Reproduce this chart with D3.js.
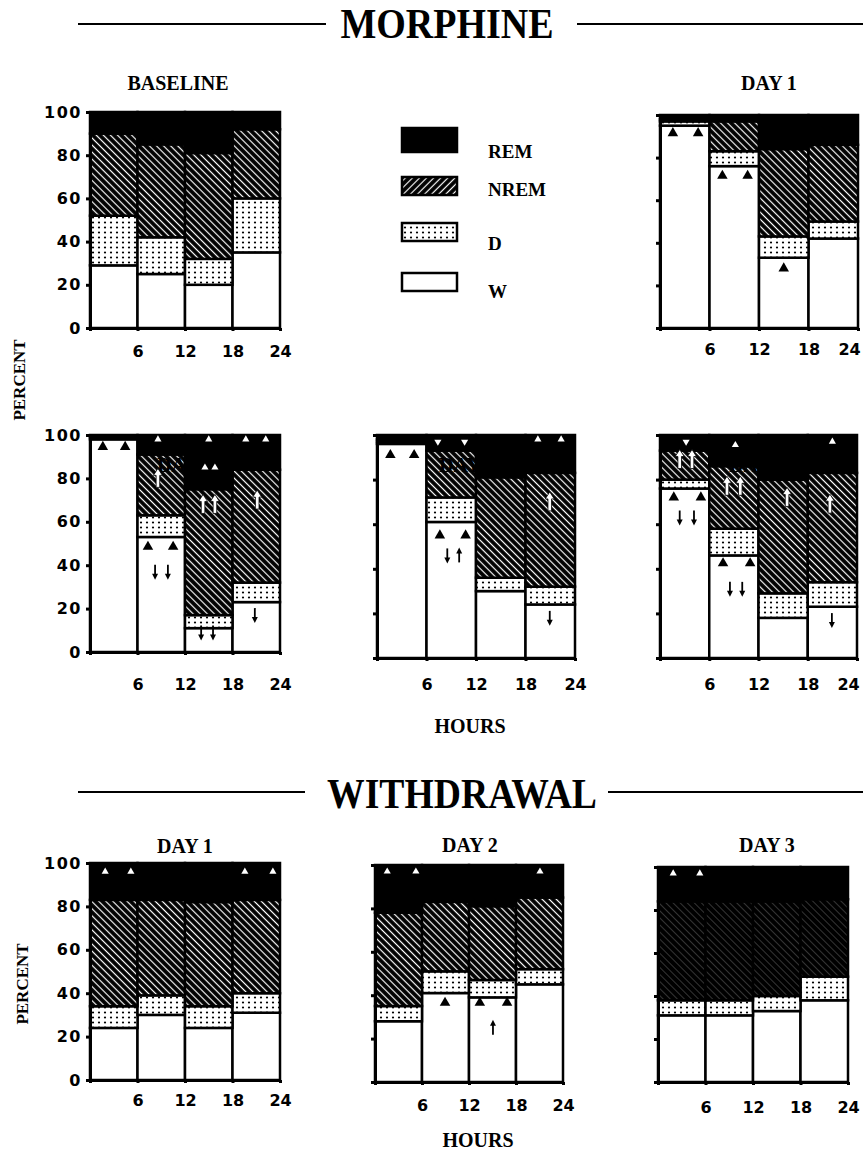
<!DOCTYPE html>
<html>
<head>
<meta charset="utf-8">
<script src="https://d3js.org/d3.v7.min.js"></script>
<style>
  body { margin: 0; background: #fff; }
  svg text { fill: #000; }
  .serif { font-family: "Liberation Serif", "Times New Roman", serif; font-weight: bold; }
  .tick text { font-family: "DejaVu Sans", sans-serif; font-weight: bold; font-size: 16px; }
</style>
</head>
<body>
<script>
// % of each 6-h block spent in W, D, NREM, REM
var titles = ["BASELINE", "DAY 1", "DAY 5", "DAY 10", "DAY 15", "DAY 1", "DAY 2", "DAY 3"];
var hours = [6, 12, 18, 24];
var hourTicks = [0, 6, 12, 18, 24];
var yTicks = [0, 20, 40, 60, 80, 100];
var stages = ["W", "D", "NREM", "REM"];
var wake   = [[29,25,20,35],[95,76,33,42],[98,53,11,23],[96,61,30,24],[76,46,18,23],[24,30,24,31],[28,41,39,45],[31,31,33,38]];
var drowsy = [[23,17,12,25],[2,7,10,8],[1,10,6,9],[1,11,6,8],[4,12,11,11],[10,9,10,9],[7,10,8,7],[7,7,7,11]];
var nrem   = [[38,43,49,32],[1,14,41,36],[0.5,28,58,52],[1,21,45,51],[13,28,51,49],[49,44,48,43],[43,32,34,33],[46,46,44,36]];
var rem    = [[10,15,19,8],[2,3,16,14],[0.5,9,25,16],[2,7,19,17],[7,14,20,17],[17,17,18,17],[22,17,19,15],[16,16,16,15]];

// significance marks: [panel, block, position in block, percent, kind]
var marks = [
  [1,0,0.26,91.5,"tri"],[1,0,0.77,91.5,"tri"],[1,1,0.26,71.5,"tri"],[1,1,0.77,71.5,"tri"],[1,2,0.5,28,"tri"],
  [2,0,0.27,94.5,"tri"],[2,0,0.74,94.5,"tri"],
  [2,1,0.43,98,"triW"],[2,1,0.43,80,"upW"],[2,1,0.22,48.5,"tri"],[2,1,0.75,48.5,"tri"],[2,1,0.37,37,"dn"],[2,1,0.64,37,"dn"],
  [2,2,0.5,98,"triW"],[2,2,0.42,85,"triW"],[2,2,0.63,85,"triW"],[2,2,0.38,68,"upW"],[2,2,0.63,68,"upW"],[2,2,0.34,9,"dn"],[2,2,0.59,9,"dn"],
  [2,3,0.28,98,"triW"],[2,3,0.7,98,"triW"],[2,3,0.52,70,"upW"],[2,3,0.47,17,"dn"],
  [3,0,0.27,91,"tri"],[3,0,0.75,91,"tri"],
  [3,1,0.23,97,"triWd"],[3,1,0.77,97,"triWd"],[3,1,0.27,55,"tri"],[3,1,0.79,55,"tri"],[3,1,0.42,46,"dn"],[3,1,0.66,46,"up"],
  [3,3,0.25,98,"triW"],[3,3,0.72,98,"triW"],[3,3,0.49,70,"upW"],[3,3,0.49,18,"dn"],
  [4,0,0.53,97,"triWd"],[4,0,0.4,89,"upW"],[4,0,0.65,89,"upW"],[4,0,0.28,72,"tri"],[4,0,0.83,72,"tri"],[4,0,0.4,63,"dn"],[4,0,0.69,63,"dn"],
  [4,1,0.53,95.5,"triW"],[4,1,0.36,77,"upW"],[4,1,0.63,77,"upW"],[4,1,0.28,42.5,"tri"],[4,1,0.83,42.5,"tri"],[4,1,0.42,31,"dn"],[4,1,0.67,31,"dn"],
  [4,2,0.58,72,"upW"],
  [4,3,0.5,97,"triW"],[4,3,0.45,69,"upW"],[4,3,0.49,17,"dn"],
  [5,0,0.32,96,"triW"],[5,0,0.86,96,"triW"],[5,3,0.26,96,"triW"],[5,3,0.85,96,"triW"],
  [6,0,0.26,97,"triW"],[6,0,0.87,97,"triW"],[6,3,0.51,97,"triW"],[6,1,0.49,36.5,"tri"],[6,2,0.23,36.5,"tri"],[6,2,0.81,36.5,"tri"],[6,2,0.51,25,"up"],
  [7,0,0.32,97,"triW"],[7,0,0.88,97,"triW"]
];

// panel boxes on the page
var layout = [
  {x0:90,  x1:280, top:112, bot:328,  tx:178, ty:90,  labels:true,  pad:15},
  {x0:660, x1:858, top:115, bot:328,  tx:769, ty:90,  labels:false, pad:13, edge:true},
  {x0:90,  x1:280, top:435, bot:652,  tx:185, ty:472, labels:true,  pad:24},
  {x0:377, x1:575, top:435, bot:658,  tx:472, ty:472, labels:false, pad:18},
  {x0:660, x1:857, top:435, bot:658,  tx:762, ty:472, labels:false, pad:18, edge:true},
  {x0:90,  x1:280, top:863, bot:1080, tx:185, ty:853, labels:true,  pad:12},
  {x0:375, x1:563, top:865, bot:1082, tx:470, ty:852, labels:false, pad:15},
  {x0:658, x1:848, top:867, bot:1082, tx:767, ty:852, labels:false, pad:17, dark:true}
];

var svg = d3.select("body").append("svg").attr("width", 863).attr("height", 1154);
var defs = svg.append("defs");

function hatch(id, angle, lineW, op) {
  var p = defs.append("pattern").attr("id", id).attr("width", 5).attr("height", 5)
    .attr("patternUnits", "userSpaceOnUse").attr("patternTransform", "rotate(" + angle + ")");
  p.append("rect").attr("width", 5).attr("height", 5).attr("fill", "#000");
  p.append("line").attr("x1", 2.5).attr("x2", 2.5).attr("y1", 0).attr("y2", 5)
    .attr("stroke", "#fff").attr("stroke-width", lineW).attr("stroke-opacity", op);
}
hatch("hatch", -45, 1.2, 1);
hatch("hatchDark", -45, 0.6, 0.35);
hatch("hatchLeg", 45, 1.2, 1);
var dots = defs.append("pattern").attr("id", "dots").attr("width", 6).attr("height", 5)
  .attr("patternUnits", "userSpaceOnUse");
dots.append("rect").attr("width", 6).attr("height", 5).attr("fill", "#fff");
dots.append("circle").attr("cx", 3).attr("cy", 2.5).attr("r", 1.1).attr("fill", "#000");

function fillFor(key, dark) {
  if (key === "W") return "#fff";
  if (key === "D") return "url(#dots)";
  if (key === "NREM") return dark ? "url(#hatchDark)" : "url(#hatch)";
  return "#000";
}

// section headers
function header(text, cx, base, lineY, width, gapL, gapR) {
  svg.append("line").attr("x1", 78).attr("x2", gapL).attr("y1", lineY).attr("y2", lineY)
    .attr("stroke", "#000").attr("stroke-width", 2);
  svg.append("line").attr("x1", gapR).attr("x2", 863).attr("y1", lineY).attr("y2", lineY)
    .attr("stroke", "#000").attr("stroke-width", 2);
  svg.append("text").attr("class", "serif").attr("x", cx).attr("y", base)
    .attr("text-anchor", "middle").attr("font-size", 42)
    .attr("textLength", width).attr("lengthAdjust", "spacingAndGlyphs").text(text);
}
header("MORPHINE", 447, 38, 24, 213, 326, 577);
header("WITHDRAWAL", 462, 808, 792, 270, 305, 608);

layout.forEach(function (L, p) {
  var x = d3.scaleLinear().domain([0, 24]).range([L.x0, L.x1]);
  var y = d3.scaleLinear().domain([0, 100]).range([L.bot, L.top]);
  var rows = hours.map(function (h, i) {
    return { hour: h, W: wake[p][i], D: drowsy[p][i], NREM: nrem[p][i], REM: rem[p][i] };
  });
  var series = d3.stack().keys(stages)(rows);
  var g = svg.append("g");

  g.selectAll("g.layer").data(series).enter().append("g").attr("class", "layer")
    .attr("fill", function (s) { return fillFor(s.key, L.dark); })
    .selectAll("rect").data(function (s) { return s; }).enter().append("rect")
    .attr("x", function (d) { return x(d.data.hour - 6); })
    .attr("width", function (d) { return x(d.data.hour) - x(d.data.hour - 6); })
    .attr("y", function (d) { return y(d[1]); })
    .attr("height", function (d) { return y(d[0]) - y(d[1]); })
    .attr("stroke", "#000").attr("stroke-width", 2.5);

  var ya = g.append("g").attr("transform", "translate(" + L.x0 + ",0)")
    .call(d3.axisLeft(y).tickValues(yTicks).tickSize(4).tickSizeOuter(0).tickPadding(4)
      .tickFormat(L.labels ? d3.format("d") : ""));
  var xa = g.append("g").attr("transform", "translate(0," + L.bot + ")")
    .call(d3.axisBottom(x).tickValues(hourTicks).tickSize(3).tickSizeOuter(0).tickPadding(L.pad)
      .tickFormat(function (d) { return d === 0 ? "" : d; }));
  [ya, xa].forEach(function (a) {
    a.select(".domain").attr("stroke-width", 3);
    a.selectAll(".tick line").attr("stroke-width", 3);
  });
  ya.selectAll(".tick text").attr("letter-spacing", 1.5);
  if (L.edge) {
    // keep the last hour label inside the page
    xa.selectAll(".tick text").filter(function (d) { return d === 24; }).attr("dx", -9);
  }

  g.append("text").attr("class", "serif").attr("x", L.tx).attr("y", L.ty)
    .attr("text-anchor", "middle").attr("font-size", 20).text(titles[p]);

  // marks
  var pm = marks.filter(function (m) { return m[0] === p; });
  g.selectAll("g.mark").data(pm).enter().append("g").attr("class", "mark")
    .attr("transform", function (m) {
      var h = hours[m[1]];
      return "translate(" + x(h - 6 + 6 * m[2]) + "," + y(m[3]) + ")";
    })
    .each(function (m) {
      var s = d3.select(this), k = m[4];
      if (k === "tri") {
        s.append("path").attr("d", d3.symbol(d3.symbolTriangle, 48)()).attr("fill", "#000");
      } else if (k === "triW") {
        s.append("path").attr("d", d3.symbol(d3.symbolTriangle, 22)()).attr("fill", "#fff");
      } else if (k === "triWd") {
        s.append("path").attr("d", d3.symbol(d3.symbolTriangle, 22)()).attr("fill", "#fff")
          .attr("transform", "rotate(180)");
      } else if (k === "dn" || k === "up") {
        var a = s.append("g").attr("transform", k === "up" ? "rotate(180)" : null);
        a.append("line").attr("x1", 0).attr("x2", 0).attr("y1", -7).attr("y2", 3)
          .attr("stroke", "#000").attr("stroke-width", 1.8);
        a.append("path").attr("d", "M-3,2L3,2L0,8Z").attr("fill", "#000");
      } else if (k === "upW") {
        s.append("path").attr("d", "M0,-10L4.5,-3L1.8,-3L1.8,9L-1.8,9L-1.8,-3L-4.5,-3Z")
          .attr("fill", "#fff").attr("stroke", "#000").attr("stroke-width", 0.8);
      }
    });
});

// axis titles
function percent(cx, cy) {
  svg.append("text").attr("class", "serif").attr("font-size", 17).attr("text-anchor", "middle")
    .attr("transform", "translate(" + cx + "," + cy + ") rotate(-90)").text("PERCENT");
}
percent(25, 380);
percent(28, 984);
svg.append("text").attr("class", "serif").attr("x", 470).attr("y", 733)
  .attr("text-anchor", "middle").attr("font-size", 20).text("HOURS");
svg.append("text").attr("class", "serif").attr("x", 478).attr("y", 1147)
  .attr("text-anchor", "middle").attr("font-size", 20).text("HOURS");

// legend
var legendKeys = ["REM", "NREM", "D", "W"];
var legendFill = { REM: "#000", NREM: "url(#hatchLeg)", D: "url(#dots)", W: "#fff" };
var boxY = [140, 186, 232, 282];
var labY = [158, 196, 250, 298];
var leg = svg.append("g").selectAll("g").data(legendKeys).enter().append("g");
leg.append("rect").attr("x", 402).attr("width", 55)
  .attr("y", function (d, i) { return boxY[i] - (i === 0 ? 12 : 9); })
  .attr("height", function (d, i) { return i === 0 ? 24 : 18; })
  .attr("fill", function (d) { return legendFill[d]; })
  .attr("stroke", "#000").attr("stroke-width", 2.5);
leg.append("text").attr("class", "serif").attr("x", 488)
  .attr("y", function (d, i) { return labY[i]; })
  .attr("font-size", 19).text(function (d) { return d; });
</script>
</body>
</html>
